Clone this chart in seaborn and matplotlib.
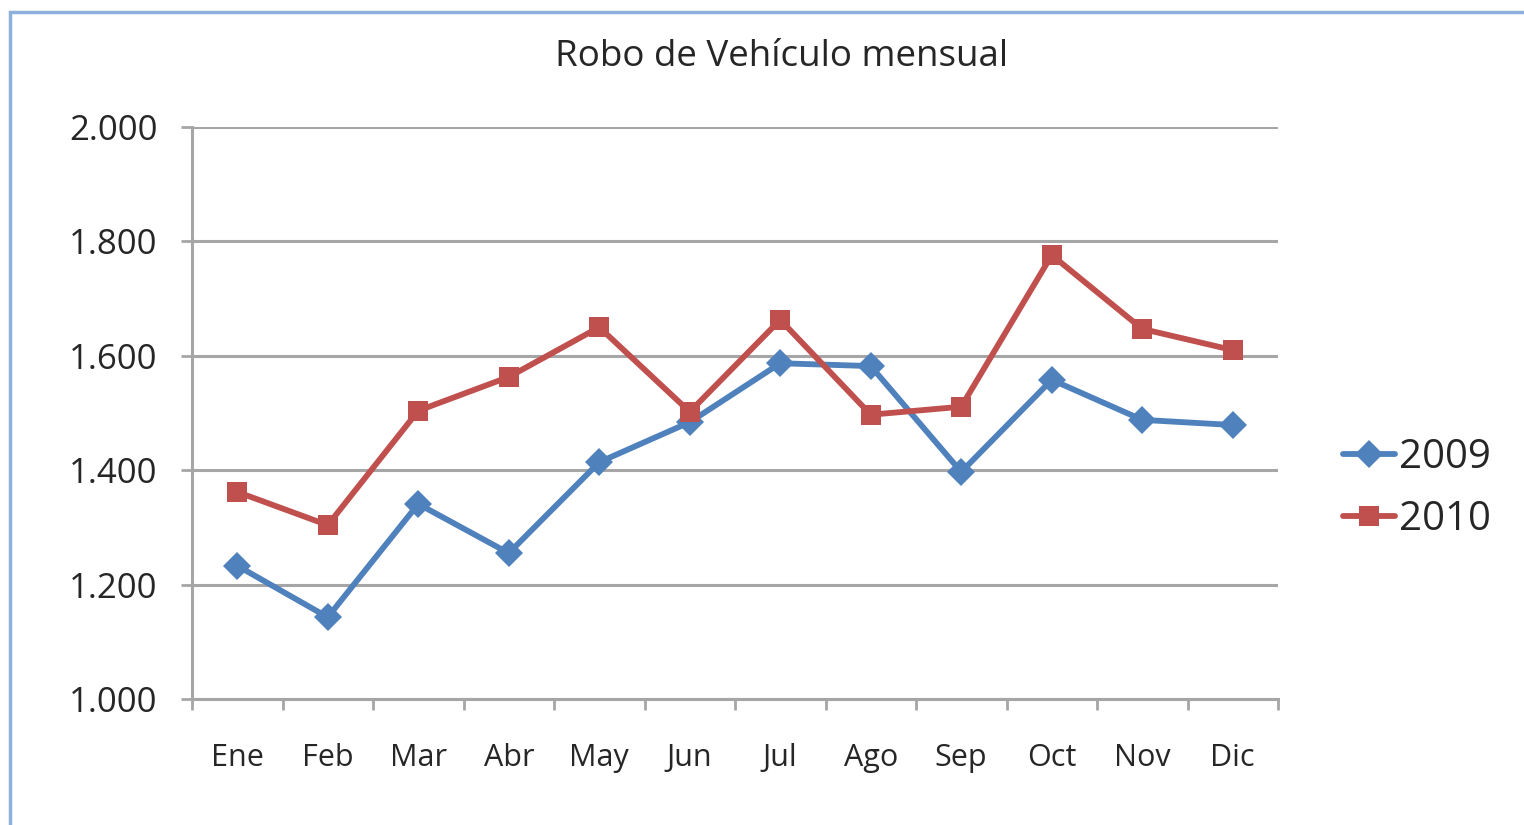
import numpy as np
import pandas as pd
import seaborn as sns
import matplotlib
matplotlib.use("Agg")
import matplotlib.pyplot as plt
from matplotlib.patches import Rectangle
from matplotlib.ticker import FuncFormatter, FixedLocator

# datos
meses = ["Ene", "Feb", "Mar", "Abr", "May", "Jun", "Jul", "Ago", "Sep", "Oct", "Nov", "Dic"]
robos_2009 = [1233, 1143, 1341, 1255, 1414, 1484, 1587, 1582, 1397, 1558, 1488, 1479]
robos_2010 = [1362, 1304, 1504, 1563, 1650, 1502, 1663, 1497, 1511, 1776, 1647, 1610]
anios = ["2009", "2010"]
titulo = "Robo de Vehículo mensual"

colores = {"2009": "#4f81bd", "2010": "#c0504d"}
marcas = {"2009": "D", "2010": "s"}


def build_df():
    rows = []
    for anio, vals in zip(anios, [robos_2009, robos_2010]):
        for i, v in enumerate(vals):
            rows.append({"pos": i, "mes": meses[i], "anio": anio, "robos": v})
    return pd.DataFrame(rows)


def main():
    sns.set_style("white")
    plt.rcParams["font.family"] = ["Open Sans", "DejaVu Sans"]

    df = build_df()
    fig = plt.figure(figsize=(15.24, 8.25), dpi=100)
    ax = fig.add_axes([192 / 1524, 1 - 699 / 825, (1278 - 192) / 1524, (699 - 127) / 825])

    sns.lineplot(data=df, x="pos", y="robos", hue="anio", style="anio",
                 palette=colores, markers=marcas, dashes=False,
                 linewidth=4.2, markersize=14, markeredgewidth=0, ax=ax)

    ax.set_xlim(-0.5, len(meses) - 0.5)
    ax.set_ylim(1000, 2000)
    ax.set_yticks([1000, 1200, 1400, 1600, 1800, 2000])
    ax.yaxis.set_major_formatter(FuncFormatter(lambda v, p: f"{v:,.0f}".replace(",", ".")))
    ax.yaxis.grid(True, color="#a6a6a6", linewidth=2.2)
    ax.set_axisbelow(True)

    # ticks entre categorias, etiquetas centradas
    ax.xaxis.set_major_locator(FixedLocator(np.arange(-0.5, len(meses), 1)))
    ax.xaxis.set_major_formatter(FuncFormatter(lambda v, p: ""))
    ax.xaxis.set_minor_locator(FixedLocator(np.arange(len(meses))))
    ax.set_xticklabels(meses, minor=True)
    ax.tick_params(axis="x", which="major", length=8, width=2, color="#a6a6a6", direction="out", bottom=True)
    ax.tick_params(axis="x", which="minor", length=0, pad=32, labelsize=22)
    ax.tick_params(axis="y", length=8, width=2, color="#a6a6a6", direction="out", left=True, labelsize=25, pad=17)

    for s in ["top", "right"]:
        ax.spines[s].set_visible(False)
    for s in ["left", "bottom"]:
        ax.spines[s].set_color("#a6a6a6")
        ax.spines[s].set_linewidth(2.2)

    ax.set_xlabel("")
    ax.set_ylabel("")

    ax.legend(loc="center left", bbox_to_anchor=(1.045, 0.367), frameon=False,
              fontsize=29, handlelength=1.3, handletextpad=0.1, labelspacing=0.53,
              borderaxespad=0)

    fig.text(782 / 1524, 1 - 57 / 825, titulo, ha="center", va="center", fontsize=26.5)

    # marco del grafico
    fig.patches.append(Rectangle((10 / 1524, -0.1), 1.2, 1 - 12 / 825 + 0.1,
                                 transform=fig.transFigure, fill=False,
                                 edgecolor="#8eb0dc", linewidth=2.5))

    fig.savefig("out.png", dpi=100)


if __name__ == '__main__':
    main()
